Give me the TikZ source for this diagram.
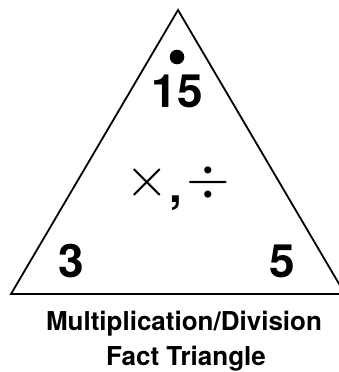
\documentclass[tikz,border=0pt]{standalone}
\usepackage{fontspec}
\setmainfont{TeX Gyre Heros}
\begin{document}
\begin{tikzpicture}[x=1pt,y=-1pt,
  num/.style={font=\fontsize{46}{46}\selectfont\bfseries, inner sep=0pt, anchor=base},
  ttl/.style={font=\fontsize{26}{26}\selectfont\bfseries, inner sep=0pt, anchor=base},
  op/.style={inner sep=0pt}]
\useasboundingbox (0,0) rectangle (339,372);
\clip (0,0) rectangle (339,372);
\coordinate (A) at (178,10);
\coordinate (L) at (11,294);
\coordinate (R) at (345,294);
\draw[line width=1.8pt, line join=miter] (L) -- (A) -- (R) -- cycle;
\fill (177,57) circle (7.3);
\node[num] (top) at (177,107) {15};
\node[num] (left) at (71.5,277) {3};
\node[num] (right) at (282,277) {5};
\node[op] (times) at (147.5,182.5) {\scalebox{5.6}{$\times$}};
\node[num] (comma) at (176,202) {,};
\node[op] (div) at (208.5,182.5) {\scalebox{5.6}{$\div$}};
\node[ttl] (t1) at (184,330) {Multiplication/Division};
\node[ttl] (t2) at (186,365) {Fact Triangle};
\end{tikzpicture}
\end{document}
